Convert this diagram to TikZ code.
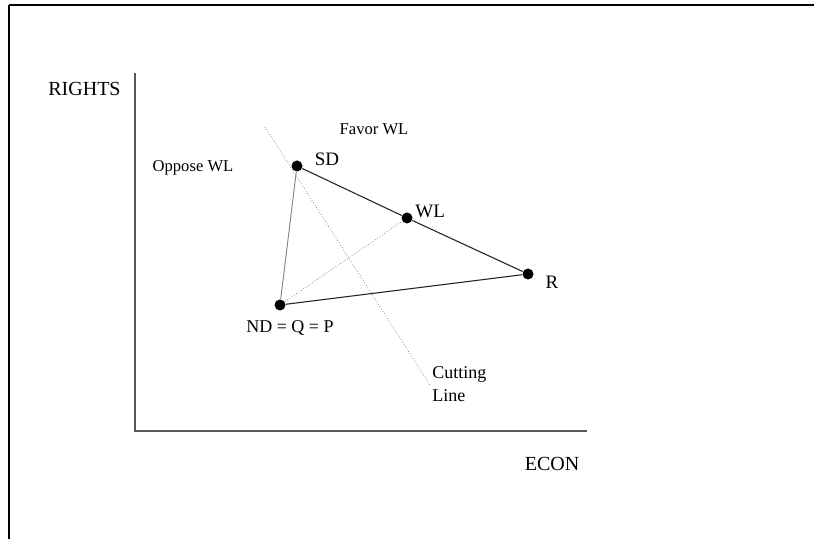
\documentclass[tikz,border=0pt]{standalone}
\usepackage{fontspec}
\setmainfont{Liberation Serif}
\begin{document}
\begin{tikzpicture}[x=0.5pt,y=-0.5pt,
  dot/.style={circle,fill=black,inner sep=0pt,minimum size=5.5pt},
  lbl/.style={inner sep=0pt,font=\fontsize{9.5}{11}\selectfont},
  axlbl/.style={inner sep=0pt,font=\fontsize{10}{12}\selectfont},
  small/.style={inner sep=0pt,font=\fontsize{8.3}{10}\selectfont},
  axis/.style={draw=black!65,line width=0.6pt},
  edge/.style={draw=black!85,line width=0.55pt},
  faint/.style={draw=black!50,line width=0.45pt},
  cut/.style={draw=black!45,line width=0.4pt,densely dotted},
  frame/.style={draw=black,line width=1.4pt}]
\useasboundingbox (0,0) rectangle (814,539);
% frame
\coordinate (tl) at (9,5);
\coordinate (tm) at (125,5);
\coordinate (tr) at (814,5);
\coordinate (bl) at (9,539);
\draw[frame] (tm) -- (tr);
\draw[draw=black,line width=0.6pt] (tl) -- (tm);
\draw[frame] (tl) -- (bl);
% axes
\coordinate (o) at (135,431);
\coordinate (ytop) at (135,73);
\coordinate (xend) at (587,431);
\draw[axis] (ytop) -- (o) -- (xend);
\node[axlbl] (rights) at (84.5,88.5) {RIGHTS};
\node[axlbl] (econ) at (552,464) {ECON};
% points
\node[dot] (sd) at (297,166) {};
\node[dot] (wl) at (407,218) {};
\node[dot] (r) at (528,274) {};
\node[dot] (nd) at (280,305) {};
\node[lbl] (sdl) at (327,159) {SD};
\node[lbl,anchor=west] (wll) at (415,211) {WL};
\node[lbl] (rl) at (552,282) {R};
\node[lbl,font=\fontsize{9}{11}\selectfont] (ndl) at (290,328) {ND = Q = P};
% edges
\draw[edge] (sd) -- (wl);
\draw[edge] (wl) -- (r);
\draw[edge] (r) -- (nd);
\draw[faint] (nd) -- (sd);
\draw[cut] (nd) -- (wl);
% cutting line
\coordinate (ct) at (265,127);
\coordinate (cb) at (430,385);
\draw[cut] (ct) -- (cb);
\node[lbl,anchor=north west,align=left,font=\fontsize{9}{11.5}\selectfont] (cl) at (432,366) {Cutting\\Line};
% regions
\node[small] (fav) at (374,129) {Favor WL};
\node[small] (opp) at (193,168) {Oppose WL};
\end{tikzpicture}
\end{document}
